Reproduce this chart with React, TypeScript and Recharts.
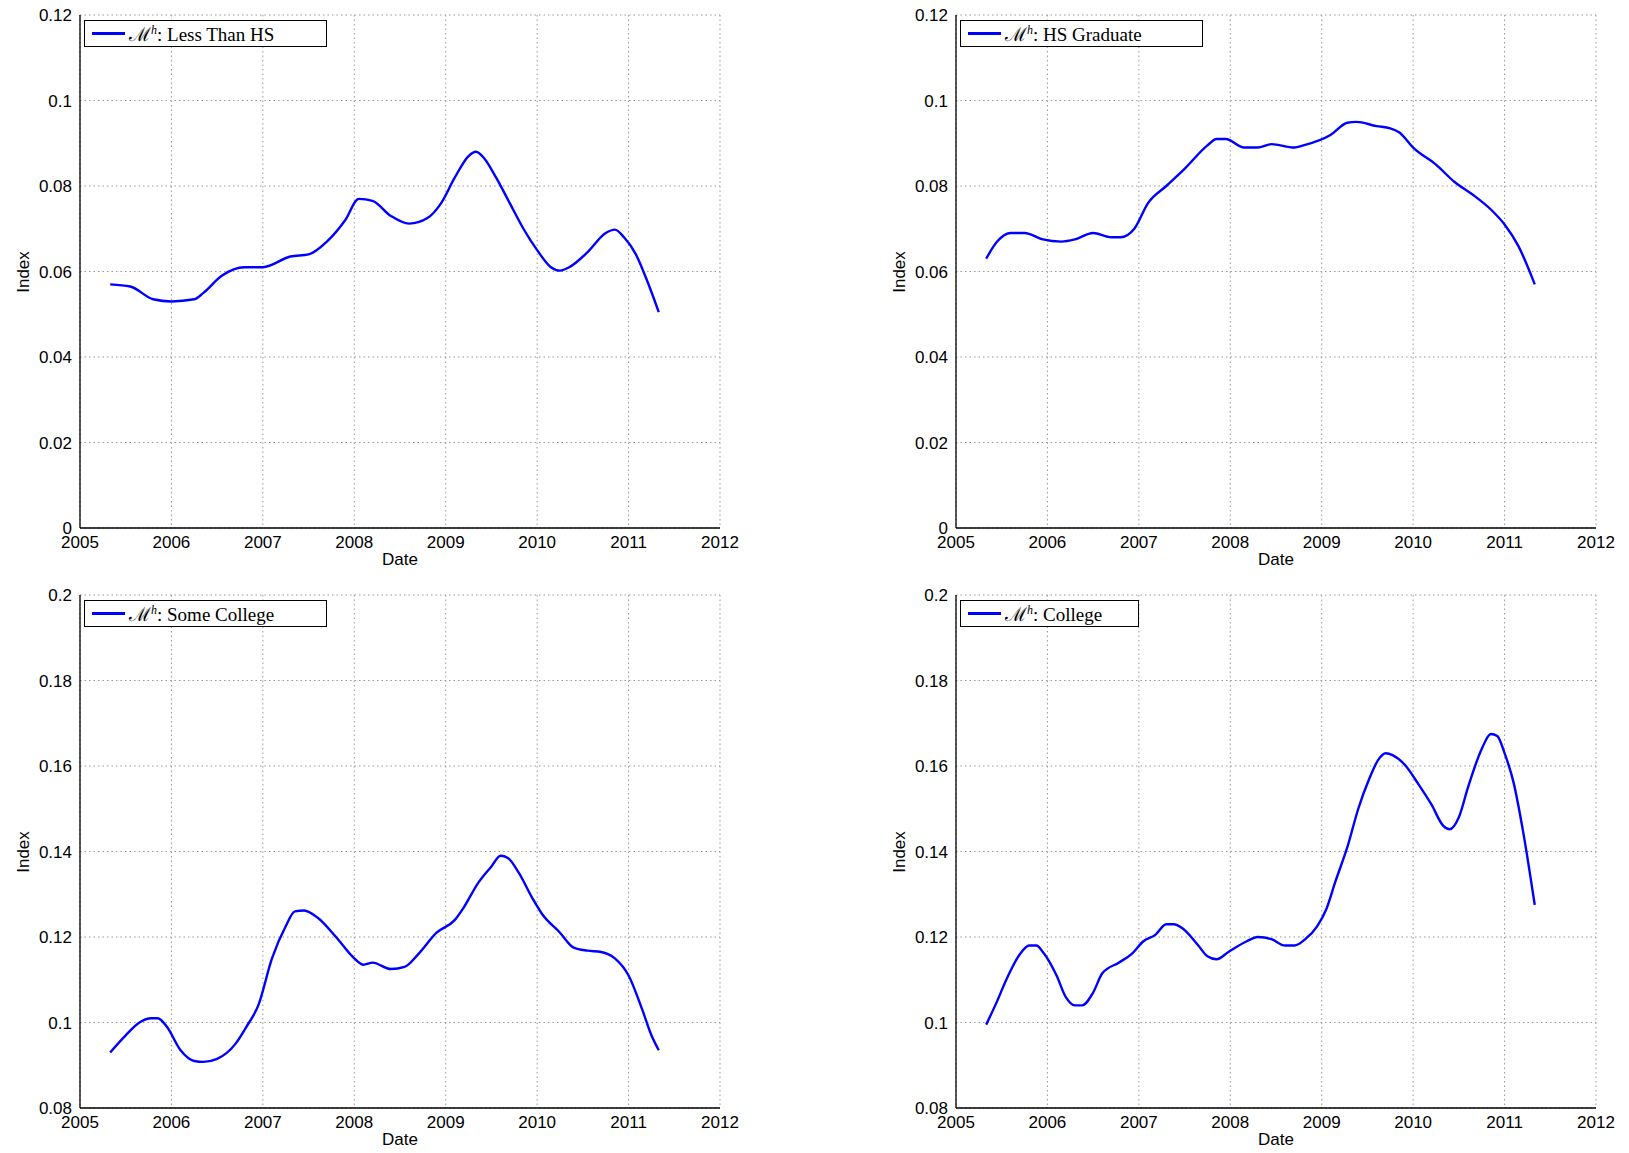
import React from 'react';
import { LineChart, Line, XAxis, YAxis, CartesianGrid } from 'recharts';

const xTicks = [2005, 2006, 2007, 2008, 2009, 2010, 2011, 2012];
const yTicksTop = [0, 0.02, 0.04, 0.06, 0.08, 0.1, 0.12];
const yTicksBottom = [0.08, 0.1, 0.12, 0.14, 0.16, 0.18, 0.2];

const lessThanHS: [number, number][] = [
  [2005.33, 0.057], [2005.55, 0.0565], [2005.8, 0.0535], [2006.0, 0.053], [2006.25, 0.0535], [2006.35, 0.055],
  [2006.55, 0.059], [2006.8, 0.061], [2007.0, 0.061], [2007.3, 0.0635], [2007.5, 0.064], [2007.7, 0.067],
  [2007.9, 0.072], [2008.05, 0.077], [2008.2, 0.0765], [2008.4, 0.073], [2008.6, 0.0712], [2008.8, 0.0725],
  [2008.95, 0.076], [2009.1, 0.082], [2009.25, 0.087], [2009.33, 0.088], [2009.42, 0.0865], [2009.55, 0.082],
  [2009.7, 0.076], [2009.85, 0.07], [2010.0, 0.065], [2010.15, 0.061], [2010.25, 0.0602], [2010.35, 0.061],
  [2010.55, 0.0645], [2010.75, 0.069], [2010.85, 0.0698], [2010.95, 0.068], [2011.08, 0.064], [2011.2, 0.058],
  [2011.33, 0.0505],
];
const hsGraduate: [number, number][] = [
  [2005.33, 0.063], [2005.45, 0.067], [2005.6, 0.069], [2005.75, 0.069], [2005.95, 0.0675], [2006.15, 0.067],
  [2006.3, 0.0675], [2006.5, 0.069], [2006.7, 0.068], [2006.8, 0.068], [2006.95, 0.07], [2007.1, 0.076],
  [2007.3, 0.08], [2007.5, 0.084], [2007.75, 0.0895], [2007.85, 0.091], [2007.95, 0.091], [2008.15, 0.089],
  [2008.3, 0.089], [2008.45, 0.0898], [2008.7, 0.089], [2008.8, 0.0895], [2009.1, 0.092], [2009.28, 0.0948],
  [2009.38, 0.095], [2009.6, 0.094], [2009.75, 0.0935], [2009.85, 0.0925], [2010.0, 0.089], [2010.25, 0.085],
  [2010.45, 0.081], [2010.65, 0.078], [2010.85, 0.0745], [2011.0, 0.071], [2011.15, 0.066], [2011.33, 0.057],
];
const someCollege: [number, number][] = [
  [2005.33, 0.093], [2005.5, 0.097], [2005.65, 0.1], [2005.78, 0.101], [2005.85, 0.101], [2005.95, 0.099],
  [2006.1, 0.0935], [2006.25, 0.091], [2006.35, 0.0908], [2006.5, 0.0915], [2006.7, 0.095], [2006.82, 0.099],
  [2006.95, 0.104], [2007.1, 0.115], [2007.25, 0.1225], [2007.35, 0.126], [2007.45, 0.1262], [2007.6, 0.1245],
  [2007.8, 0.12], [2008.0, 0.115], [2008.1, 0.1135], [2008.2, 0.114], [2008.4, 0.1125], [2008.55, 0.113],
  [2008.7, 0.116], [2008.9, 0.121], [2009.1, 0.124], [2009.2, 0.127], [2009.35, 0.1325], [2009.5, 0.1365],
  [2009.6, 0.139], [2009.68, 0.1385], [2009.8, 0.135], [2009.95, 0.129], [2010.05, 0.1255], [2010.25, 0.121],
  [2010.4, 0.1175], [2010.55, 0.1168], [2010.7, 0.1165], [2010.85, 0.115], [2011.0, 0.111], [2011.15, 0.103],
  [2011.25, 0.097], [2011.33, 0.0935],
];
const college: [number, number][] = [
  [2005.33, 0.0995], [2005.45, 0.105], [2005.55, 0.11], [2005.7, 0.116], [2005.8, 0.118], [2005.88, 0.118],
  [2005.95, 0.1165], [2006.1, 0.111], [2006.2, 0.106], [2006.3, 0.104], [2006.38, 0.104], [2006.5, 0.107],
  [2006.6, 0.1115], [2006.78, 0.114], [2006.92, 0.116], [2007.05, 0.119], [2007.18, 0.1205], [2007.3, 0.123],
  [2007.38, 0.123], [2007.48, 0.122], [2007.65, 0.118], [2007.75, 0.1155], [2007.85, 0.1148], [2007.98, 0.1165],
  [2008.18, 0.119], [2008.3, 0.12], [2008.45, 0.1195], [2008.6, 0.118], [2008.7, 0.118], [2008.82, 0.1195],
  [2008.95, 0.1225], [2009.05, 0.1265], [2009.15, 0.133], [2009.28, 0.141], [2009.4, 0.15], [2009.52, 0.157],
  [2009.62, 0.1615], [2009.7, 0.163], [2009.78, 0.1625], [2009.92, 0.16], [2010.05, 0.156], [2010.2, 0.151],
  [2010.33, 0.146], [2010.4, 0.1452], [2010.5, 0.148], [2010.6, 0.155], [2010.75, 0.164], [2010.85, 0.1675],
  [2010.92, 0.167], [2011.0, 0.163], [2011.1, 0.156], [2011.2, 0.145], [2011.33, 0.1275],
];

const font = 'Liberation Sans, Arial, sans-serif';
const PW = 640;
const PH = 513;

function Panel(props: { left: number; top: number; data: [number, number][]; yTicks: number[]; label: string; legendW: number }) {
  const { left, top, data, yTicks, label, legendW } = props;
  const rows = data.map(([x, y]) => ({ x, y }));
  const tick = { fill: '#000', fontSize: 17, fontFamily: font };
  const yDom = [yTicks[0], yTicks[yTicks.length - 1]];
  return (
    <div style={{ position: 'absolute', left: left - 60, top: top - 15, width: 60 + PW + 30, height: 15 + PH + 50 }}>
      <LineChart width={60 + PW + 30} height={15 + PH + 50} data={rows} margin={{ top: 15, right: 30, left: 0, bottom: 0 }}>
        <CartesianGrid xAxisId="b" yAxisId="l" stroke="#999" strokeDasharray="1.5 3" />
        <XAxis xAxisId="b" dataKey="x" type="number" domain={[2005, 2012]} ticks={xTicks} height={50}
          tick={tick} tickLine={false} axisLine={{ stroke: '#000', strokeWidth: 1.3 }} tickMargin={2} interval={0} />
        <XAxis xAxisId="t" dataKey="x" type="number" domain={[2005, 2012]} orientation="top" height={0}
          tick={false} tickLine={false} axisLine={{ stroke: '#000', strokeWidth: 1.3 }} />
        <YAxis yAxisId="l" type="number" domain={yDom} ticks={yTicks} width={60}
          tick={tick} tickLine={false} axisLine={{ stroke: '#000', strokeWidth: 1.3 }} tickMargin={2} interval={0} />
        <YAxis yAxisId="r" type="number" orientation="right" width={0} domain={yDom}
          tick={false} tickLine={false} axisLine={{ stroke: '#000', strokeWidth: 1.3 }} />
        <Line xAxisId="b" yAxisId="l" dataKey="y" stroke="#0000ff" strokeWidth={2.4} dot={false} type="monotone" isAnimationActive={false} />
      </LineChart>
      <div style={{ position: 'absolute', left: 64, top: 20, width: legendW, height: 27, border: '1px solid #000', background: '#fff',
        fontFamily: 'Liberation Serif, DejaVu Serif, serif', fontSize: 19, display: 'flex', alignItems: 'center', boxSizing: 'border-box' }}>
        <span style={{ display: 'inline-block', width: 33, height: 2.4, background: '#0000ff', marginLeft: 7, marginRight: 4 }} />
        <span>ℳ<sup style={{ fontSize: 12 }}><i>h</i></sup>: {label}</span>
      </div>
      <div style={{ position: 'absolute', left: -6, top: 15 + PH / 2 - 30, width: 20, height: 60, display: 'flex', alignItems: 'center', justifyContent: 'center' }}>
        <span style={{ transform: 'rotate(-90deg)', fontFamily: font, fontSize: 17, whiteSpace: 'nowrap' }}>Index</span>
      </div>
      <div style={{ position: 'absolute', left: 60, width: PW, top: 15 + PH + 22, textAlign: 'center', fontFamily: font, fontSize: 17 }}>Date</div>
    </div>
  );
}

export default function App() {
  return (
    <div style={{ position: 'absolute', left: 0, top: 0, width: 1629, height: 1153, background: '#fff' }}>
      <Panel left={80} top={15} data={lessThanHS} yTicks={yTicksTop} label="Less Than HS" legendW={243} />
      <Panel left={956} top={15} data={hsGraduate} yTicks={yTicksTop} label="HS Graduate" legendW={243} />
      <Panel left={80} top={595} data={someCollege} yTicks={yTicksBottom} label="Some College" legendW={243} />
      <Panel left={956} top={595} data={college} yTicks={yTicksBottom} label="College" legendW={179} />
    </div>
  );
}
